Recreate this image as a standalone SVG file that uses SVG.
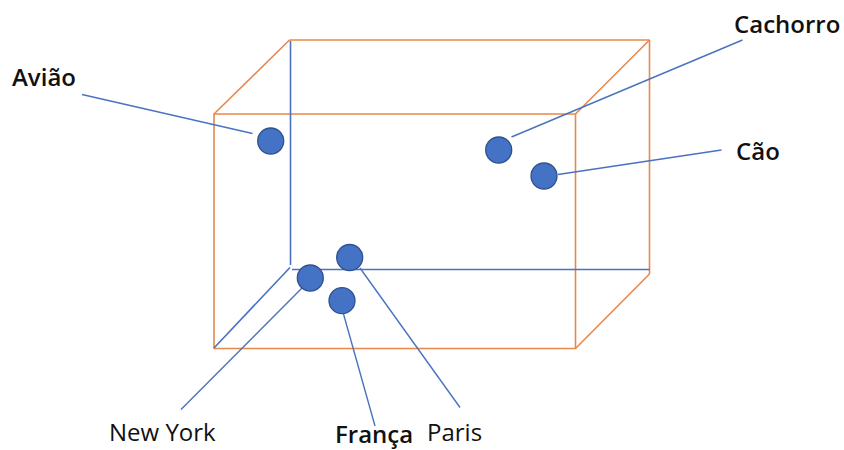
<svg xmlns="http://www.w3.org/2000/svg" width="844" height="450" viewBox="0 0 844 450">
  <style>
    .box { fill: none; stroke: #E8884A; stroke-width: 1.6; stroke-linejoin: round; }
    .axis { fill: none; stroke: #4A72C0; stroke-width: 1.6; }
    .leader { fill: none; stroke: #4A72C0; stroke-width: 1.4; }
    .dot { fill: #4472C4; stroke: #2F528F; stroke-width: 1.3; }
    .lbl { font-family: "Open Sans", "DejaVu Sans", sans-serif; font-size: 24px; font-weight: 600; fill: #111; }
    .lbl2 { font-family: "Open Sans", "DejaVu Sans", sans-serif; font-size: 24px; font-weight: 400; fill: #111; }
  </style>
  <rect width="844" height="450" fill="#ffffff"/>

  <!-- box in perspective -->
  <g id="box">
    <rect class="box" x="214" y="114" width="361.5" height="234.5"/>
    <line class="box" x1="289.5" y1="40" x2="649.5" y2="40"/>
    <line class="box" x1="649.5" y1="40" x2="649.5" y2="274"/>
    <line class="box" x1="214" y1="114" x2="289.5" y2="40"/>
    <line class="box" x1="575.5" y1="114" x2="649.5" y2="40"/>
    <line class="box" x1="575.5" y1="348.5" x2="649.5" y2="274"/>
    <!-- hidden back edges -->
    <line class="axis" x1="290.5" y1="41" x2="290.5" y2="265"/>
    <line class="axis" x1="292" y1="269.5" x2="649.5" y2="269.5"/>
    <line class="axis" x1="214" y1="348" x2="290" y2="267.5"/>
  </g>

  <!-- leader lines -->
  <g id="connectors">
    <line class="leader" x1="82" y1="94.5" x2="252.5" y2="133.5"/>
    <line class="leader" x1="742.5" y1="40" x2="511.5" y2="137"/>
    <line class="leader" x1="721.5" y1="150" x2="558" y2="174.5"/>
    <line class="leader" x1="181" y1="409.5" x2="302" y2="288"/>
    <line class="leader" x1="375" y1="426" x2="343.5" y2="314"/>
    <line class="leader" x1="460" y1="407.5" x2="360" y2="268"/>
  </g>

  <g id="aviao">
    <circle class="dot" cx="270.7" cy="141" r="13"/>
    <text class="lbl" x="12" y="86">Avião</text>
  </g>
  <g id="cachorro">
    <circle class="dot" cx="498.7" cy="150" r="13"/>
    <text class="lbl" x="734" y="33">Cachorro</text>
  </g>
  <g id="cao">
    <circle class="dot" cx="544" cy="176" r="13"/>
    <text class="lbl" x="736" y="160">Cão</text>
  </g>
  <g id="paris">
    <circle class="dot" cx="349.7" cy="257.5" r="13"/>
    <text class="lbl2" x="427" y="441" font-size="23">Paris</text>
  </g>
  <g id="new-york">
    <circle class="dot" cx="310.3" cy="278" r="13"/>
    <text class="lbl2" x="109" y="441" font-size="25">New York</text>
  </g>
  <g id="franca">
    <circle class="dot" cx="342" cy="300.7" r="13"/>
    <text class="lbl" x="335" y="443">França</text>
  </g>
</svg>
